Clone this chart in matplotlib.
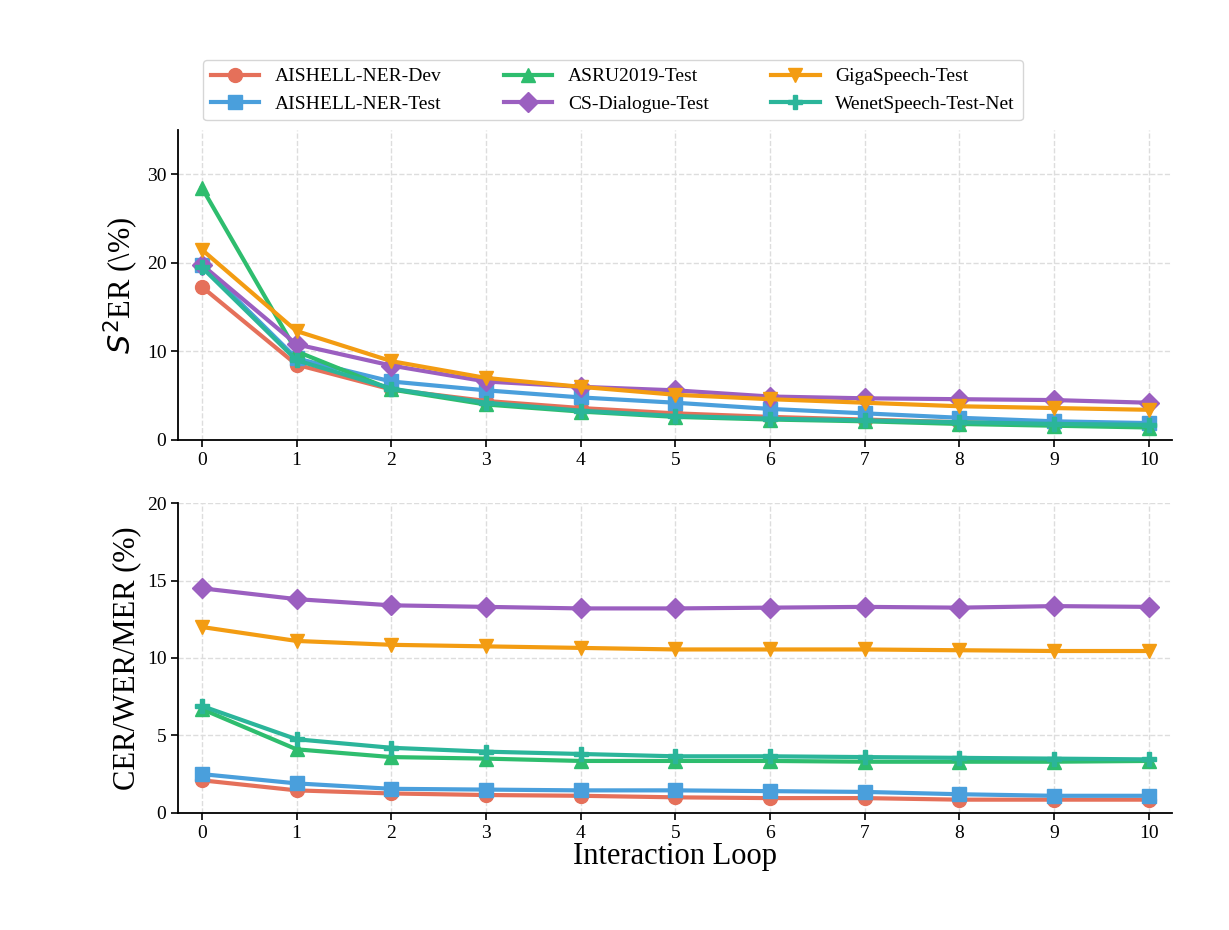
import matplotlib
matplotlib.use("Agg")
import matplotlib.pyplot as plt

plt.rcParams['font.family'] = ['Liberation Serif', 'DejaVu Serif']
plt.rcParams['mathtext.fontset'] = 'dejavusans'

loops = list(range(11))
names = ['AISHELL-NER-Dev', 'AISHELL-NER-Test', 'ASRU2019-Test',
         'CS-Dialogue-Test', 'GigaSpeech-Test', 'WenetSpeech-Test-Net']
colors = ['#e5705a', '#4a9fdc', '#2ebd6e', '#9b5fc0', '#f39c12', '#2bb59a']
markers = ['o', 's', '^', 'D', 'v', 'P']

s2er = [
    [17.3, 8.5, 5.7, 4.4, 3.6, 3.0, 2.6, 2.3, 2.0, 1.8, 1.7],
    [19.8, 9.2, 6.6, 5.6, 4.8, 4.2, 3.5, 3.0, 2.5, 2.1, 1.9],
    [28.5, 10.0, 5.7, 4.0, 3.2, 2.6, 2.3, 2.1, 1.8, 1.6, 1.4],
    [19.8, 10.8, 8.4, 6.6, 6.0, 5.6, 4.9, 4.7, 4.6, 4.5, 4.2],
    [21.5, 12.3, 8.9, 7.0, 6.0, 5.1, 4.6, 4.2, 3.8, 3.6, 3.4],
    [19.5, 9.0, 5.8, 4.2, 3.3, 2.7, 2.4, 2.2, 2.0, 1.8, 1.7],
]
err = [
    [2.1, 1.45, 1.25, 1.15, 1.1, 1.0, 0.95, 0.95, 0.85, 0.85, 0.85],
    [2.5, 1.9, 1.55, 1.5, 1.45, 1.45, 1.4, 1.35, 1.2, 1.1, 1.1],
    [6.7, 4.1, 3.6, 3.5, 3.35, 3.35, 3.35, 3.3, 3.3, 3.3, 3.35],
    [14.5, 13.8, 13.4, 13.3, 13.2, 13.2, 13.25, 13.3, 13.25, 13.35, 13.3],
    [12.0, 11.1, 10.85, 10.75, 10.65, 10.55, 10.55, 10.55, 10.5, 10.45, 10.45],
    [6.9, 4.75, 4.2, 3.95, 3.8, 3.65, 3.65, 3.6, 3.55, 3.5, 3.45],
]

fig = plt.figure(figsize=(12.29, 9.3), dpi=100)
ax1 = fig.add_axes([0.145, 0.527, 0.809, 0.333])
ax2 = fig.add_axes([0.145, 0.126, 0.809, 0.333])

for ax, data in ((ax1, s2er), (ax2, err)):
    for i in range(len(names)):
        ax.plot(loops, data[i], color=colors[i], marker=markers[i], lw=3,
                ms=10, label=names[i])
    ax.grid(True, ls='--', color='#dddddd', lw=1)
    ax.spines['top'].set_visible(False)
    ax.spines['right'].set_visible(False)
    ax.spines['left'].set_linewidth(1.3)
    ax.spines['bottom'].set_linewidth(1.3)
    ax.set_xlim(-0.25, 10.25)
    ax.set_xticks(loops)
    ax.tick_params(labelsize=14, width=1.2, length=5)

ax1.set_ylim(0, 35)
ax1.set_yticks([0, 10, 20, 30])
ax1.set_ylabel(r'$S^2$ER (\%)', fontsize=22)
ax2.set_ylim(0, 20)
ax2.set_yticks([0, 5, 10, 15, 20])
ax2.set_ylabel('CER/WER/MER (%)', fontsize=22)
ax2.set_xlabel('Interaction Loop', fontsize=22, labelpad=0)

ax1.legend(loc='lower left', bbox_to_anchor=(0.015, 1.0), ncol=3,
           fontsize=14, frameon=True, edgecolor='#cccccc',
           columnspacing=3.2, handlelength=2.5)

fig.savefig('out.png', dpi=100)
